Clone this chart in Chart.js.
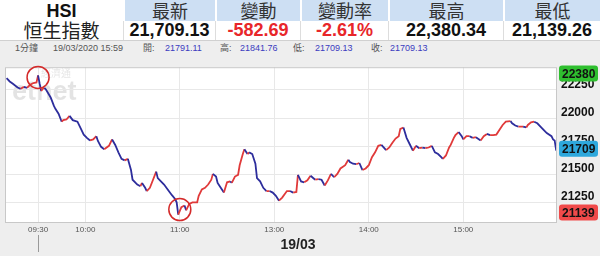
<!DOCTYPE html>
<html>
<head>
<meta charset="utf-8">
<script src="https://cdn.jsdelivr.net/npm/chart.js@4/dist/chart.umd.min.js"></script>
<style>
body { margin:0; width:600px; height:256px; overflow:hidden; background:#eeeeee; position:relative;
       font-family:"Liberation Sans", Arial, "Noto Sans CJK TC", sans-serif; }
.c { position:absolute; text-align:center; white-space:nowrap; }
.hd { top:0; height:21px; line-height:21px; background:#cddff3; color:#333; font-size:18px;
      font-family:"Noto Sans CJK TC", sans-serif; border-left:2px solid #fff; box-sizing:border-box; }
.vl { top:21px; height:19px; line-height:19px; background:#fff; color:#111; font-size:18px; font-weight:bold;
      border-left:1px solid #ddd; box-sizing:border-box; }
.red { color:#e8262a; }
#info { position:absolute; left:0; top:40px; width:600px; height:16px; border-top:1px solid #d0d0d0;
        font-size:9px; line-height:14px; color:#555; }
#info span { position:absolute; top:0; }
#info .b { color:#3b3bbf; }
#chart { position:absolute; left:0; top:56px; }
</style>
</head>
<body>
<div class="c" style="left:0;top:0;width:123px;height:21px;line-height:22px;background:#fff;font-size:18px;font-weight:bold;color:#111">HSI</div>
<div class="c hd" style="left:123px;width:92px">最新</div>
<div class="c hd" style="left:215px;width:85px">變動</div>
<div class="c hd" style="left:300px;width:88px">變動率</div>
<div class="c hd" style="left:388px;width:115px">最高</div>
<div class="c hd" style="left:503px;width:97px">最低</div>
<div class="c" style="left:0;top:20px;width:123px;height:20px;line-height:20px;background:#fff;font-size:19px;color:#222;font-family:'Noto Sans CJK TC',sans-serif">恒生指數</div>
<div class="c vl" style="left:123px;width:92px">21,709.13</div>
<div class="c vl red" style="left:215px;width:85px">-582.69</div>
<div class="c vl red" style="left:300px;width:88px">-2.61%</div>
<div class="c vl" style="left:388px;width:115px">22,380.34</div>
<div class="c vl" style="left:503px;width:97px">21,139.26</div>
<div id="info">
  <span style="left:15px">1分鐘</span>
  <span style="left:53px">19/03/2020 15:59</span>
  <span style="left:143px">開:</span><span class="b" style="left:165px">21791.11</span>
  <span style="left:220px">高:</span><span class="b" style="left:240px">21841.76</span>
  <span style="left:293px">低:</span><span class="b" style="left:315px">21709.13</span>
  <span style="left:371px">收:</span><span class="b" style="left:390px">21709.13</span>
</div>
<canvas id="chart" width="600" height="200"></canvas>
<script>
// trading minutes from 09:30 (lunch break removed, 13:00 = 150)
const minutes = [-20,-18,-16,-13,-11,-9,-7,-5,-3,-1,0,1,2,3,4,5,8,10,11,13,15,16,18,20,22,25,27,29,31,33,35,37,38,40,42,45,47,49,51,53,55,57,59,60,63,65,66,68,69,71,73,75,76,78,80,83,85,87,88,89,91,93,94,96,98,101,102,104,106,108,110,111,113,114,116,118,120,122,123,125,127,128,130,131,133,134,136,138,139,141,143,145,147,149,151,153,155,158,160,162,164,165,167,169,171,173,176,178,180,182,184,186,188,190,192,195,197,198,200,202,204,206,208,210,212,214,216,218,221,223,225,227,229,230,232,234,236,238,240,242,244,246,248,250,252,254,256,257,259,261,262,264,265,267,269,270,272,274,276,278,281,283,285,287,289,291,293,295,297,300,301,303,305,308,310,311,313,315,317,319,321,323,326,327,328,329];
const prices = [22355,22326,22306,22272,22260,22278,22269,22297,22312,22317,22380,22306,22240,22260,22269,22254,22183,22110,22082,22039,21967,21981,21987,22019,21981,21967,21910,21852,21823,21800,21809,21838,21795,21743,21722,21752,21809,21760,21694,21636,21622,21636,21536,21450,21407,21392,21421,21378,21349,21378,21450,21522,21464,21435,21407,21349,21312,21278,21248,21139,21205,21220,21177,21235,21248,21248,21306,21364,21378,21407,21450,21502,21478,21421,21378,21335,21427,21435,21421,21478,21493,21579,21679,21722,21679,21694,21679,21593,21464,21435,21378,21349,21349,21335,21306,21263,21291,21349,21349,21335,21341,21493,21435,21427,21444,21485,21450,21455,21450,21398,21444,21502,21472,21502,21550,21579,21628,21608,21593,21588,21599,21536,21550,21579,21651,21694,21752,21760,21714,21737,21780,21817,21838,21903,21915,21823,21766,21709,21752,21731,21737,21731,21737,21752,21694,21679,21651,21636,21666,21737,21760,21823,21847,21875,21838,21809,21838,21838,21823,21829,21800,21838,21858,21847,21847,21852,21895,21938,21967,21972,21953,21933,21924,21924,21916,21938,21961,21967,21953,21924,21895,21866,21838,21809,21800,21709];

const timeTicks = [0, 30, 90, 150, 210, 270];
const timeLabels = ["09:30", "10:00", "11:00", "13:00", "14:00", "15:00"];
const priceTicks = [21250, 21500, 21750, 22000, 22250];

const dayHigh = 22380, dayLow = 21139, lastPrice = 21709;
const upColor = "#e03a3a";
const downColor = "#2d2d9c";

const decor = {
    id: "decor",
    beforeDraw(chart) {
        const { ctx, chartArea: a } = chart;
        ctx.save();
        ctx.fillStyle = "#ffffff";
        ctx.fillRect(a.left, a.top, a.right - a.left, a.bottom - a.top);
        // watermark
        ctx.fillStyle = "rgba(0,0,0,0.11)";
        ctx.font = "bold 27px 'Liberation Sans'";
        ctx.fillText("etnet", 12, 44);
        ctx.font = "10px 'Noto Sans CJK TC'";
        ctx.fillText("經濟通", 41, 21);
        ctx.restore();
    },
    afterDraw(chart) {
        const { ctx, chartArea: a, scales } = chart;
        const x = scales.x, y = scales.y;
        ctx.save();
        ctx.strokeStyle = "#c8c8c8";
        ctx.lineWidth = 1;
        ctx.strokeRect(a.left + 0.5, a.top + 0.5, a.right - a.left - 1, a.bottom - a.top);

        // circles around the high and the low
        ctx.strokeStyle = "#d42a2a";
        ctx.lineWidth = 1.5;
        ctx.beginPath();
        ctx.arc(x.getPixelForValue(0), y.getPixelForValue(dayHigh) + 2, 11, 0, Math.PI * 2);
        ctx.stroke();
        ctx.beginPath();
        ctx.arc(x.getPixelForValue(90), y.getPixelForValue(dayLow) - 5, 11, 0, Math.PI * 2);
        ctx.stroke();

        // highlighted price boxes
        const boxes = [[dayHigh, "#2fbf2f"], [lastPrice, "#2ea8dc"], [dayLow, "#f04a4a"]];
        ctx.font = "bold 12px 'Liberation Sans'";
        ctx.textBaseline = "middle";
        boxes.forEach(([v, col]) => {
            const cy = y.getPixelForValue(v) - 2;
            ctx.fillStyle = col;
            ctx.beginPath();
            ctx.roundRect(a.right + 2, cy - 8, 39, 16, 3);
            ctx.fill();
            ctx.fillStyle = "#111";
            ctx.fillText(String(v), a.right + 5, cy + 1);
        });

        // date under the axis
        ctx.fillStyle = "#222";
        ctx.font = "bold 14px 'Liberation Sans'";
        ctx.textAlign = "center";
        ctx.fillText("19/03", 298, 189);
        ctx.strokeStyle = "#999";
        ctx.lineWidth = 1;
        const lx = Math.round(x.getPixelForValue(0)) + 0.5;
        ctx.beginPath();
        ctx.moveTo(lx, 179);
        ctx.lineTo(lx, 196);
        ctx.stroke();
        ctx.restore();
    }
};

new Chart(document.getElementById("chart"), {
    type: "line",
    data: {
        datasets: [{
            data: minutes.map((m, i) => ({ x: m, y: prices[i] })),
            borderWidth: 1.8,
            pointRadius: 0,
            tension: 0,
            segment: {
                borderColor: c => c.p1.parsed.y >= c.p0.parsed.y ? upColor : downColor,
            },
        }],
    },
    options: {
        responsive: false,
        animation: false,
        devicePixelRatio: 1,
        layout: { padding: { left: 5, top: 6, right: 0, bottom: 0 } },
        plugins: { legend: { display: false }, tooltip: { enabled: false } },
        scales: {
            x: {
                type: "linear",
                min: -21,
                max: 329.5,
                afterBuildTicks: s => { s.ticks = timeTicks.map(v => ({ value: v })); },
                afterFit: s => { s.height = 34; },
                ticks: {
                    callback: v => timeLabels[timeTicks.indexOf(v)],
                    font: { size: 8, family: "'Liberation Sans'" },
                    color: "#555",
                    padding: 3,
                    maxRotation: 0,
                },
                grid: { color: "#e8e8e8", drawTicks: false },
                border: { display: false },
            },
            y: {
                position: "right",
                min: 21073,
                max: 22453,
                afterBuildTicks: s => { s.ticks = priceTicks.map(v => ({ value: v })); },
                afterFit: s => { s.width = 43; },
                ticks: {
                    font: { size: 12, weight: "bold", family: "'Liberation Sans'" },
                    color: "#111",
                    padding: 4,
                    labelOffset: -5,
                    callback: v => String(v),
                },
                grid: { color: "#e8e8e8", drawTicks: false },
                border: { display: false },
            },
        },
    },
    plugins: [decor],
});
</script>
</body>
</html>
